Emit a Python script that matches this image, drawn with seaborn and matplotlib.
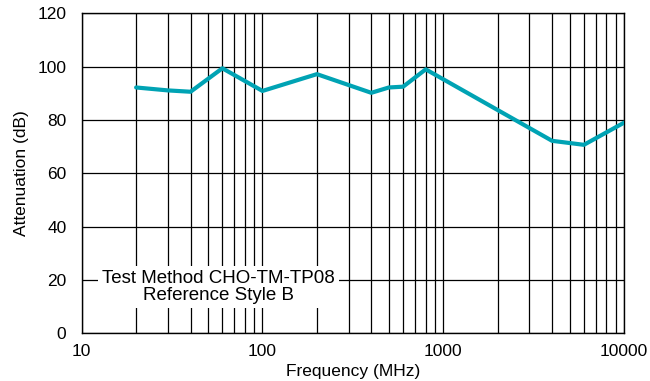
import matplotlib
matplotlib.use("Agg")
import matplotlib.pyplot as plt
import matplotlib.ticker as mticker
import seaborn as sns
import pandas as pd

freq_mhz = [20, 30, 40, 60, 100, 200, 400, 500, 600, 800, 4000, 6000, 10000]
atten_db = [92.2, 91.1, 90.6, 99.4, 90.9, 97.2, 90.2, 92.2, 92.5, 99.0, 72.2, 70.7, 79.0]
x_ticks = [10, 100, 1000, 10000]
y_ticks = [0, 20, 40, 60, 80, 100, 120]

sns.set_style("white")
plt.rcParams["font.family"] = ["Liberation Sans", "DejaVu Sans"]
plt.rcParams["text.color"] = "black"
plt.rcParams["axes.labelcolor"] = "black"
plt.rcParams["xtick.color"] = "black"
plt.rcParams["ytick.color"] = "black"

df = pd.DataFrame({"Frequency (MHz)": freq_mhz, "Attenuation (dB)": atten_db})

fig = plt.figure(figsize=(6.5, 3.81), dpi=100)
ax = fig.add_axes([0.1257, 0.125, 0.8343, 0.840])

sns.lineplot(data=df, x="Frequency (MHz)", y="Attenuation (dB)", ax=ax,
             color="#00a3b4", linewidth=3.0, zorder=3)

ax.set_xscale("log")
ax.set_xlim(10, 10000)
ax.set_ylim(0, 120)
ax.set_xticks(x_ticks)
ax.xaxis.set_major_formatter(mticker.FuncFormatter(lambda v, p: f"{int(v)}"))
ax.xaxis.set_minor_locator(mticker.LogLocator(base=10, subs=range(2, 10)))
ax.xaxis.set_minor_formatter(mticker.NullFormatter())
ax.set_yticks(y_ticks)

ax.grid(True, which="both", axis="x", color="black", linewidth=0.9)
ax.grid(True, which="major", axis="y", color="black", linewidth=0.9)
ax.set_axisbelow(True)
ax.tick_params(axis="both", which="both", length=0, labelsize=12.5)
ax.tick_params(axis="y", pad=11)
ax.tick_params(axis="x", pad=8)
for s in ax.spines.values():
    s.set_color("black")
    s.set_linewidth(1.0)

ax.set_xlabel("Frequency (MHz)", fontsize=12.5, labelpad=3)
ax.set_ylabel("Attenuation (dB)", fontsize=12.5, labelpad=6)

ax.text(57, 17.4, "Test Method CHO-TM-TP08\nReference Style B",
        ha="center", va="center", fontsize=13.5, linespacing=1.05,
        bbox=dict(facecolor="white", edgecolor="none", pad=3), zorder=4)

fig.savefig("out.png", dpi=100)
